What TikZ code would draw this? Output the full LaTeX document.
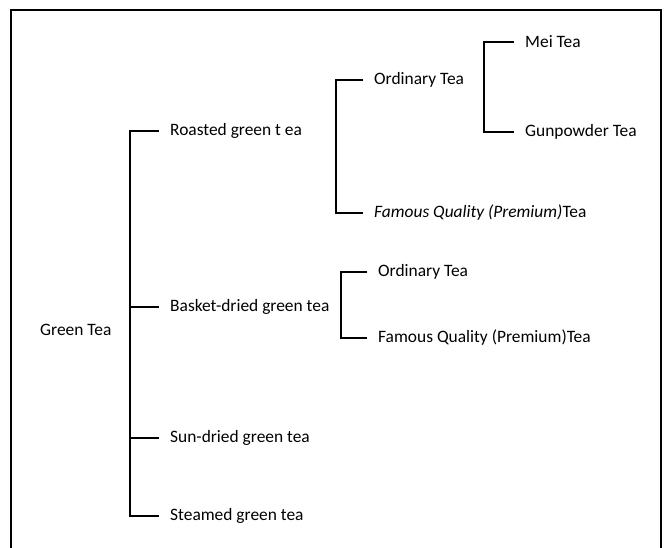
\documentclass[tikz,border=0pt]{standalone}
\usepackage{fontspec}
\setmainfont{Carlito}
\usepackage{tikz}
\usetikzlibrary{calc}
\newcommand{\teafont}{\fontsize{17.4}{19}\selectfont}
\tikzset{
    frame/.style={line width=1.6pt},
    branch/.style={line width=1.3pt},
    tea/.style={anchor=west, inner xsep=11pt, inner ysep=0pt, font=\teafont},
    root/.style={tea, inner xsep=0pt}
}
\begin{document}
\begin{tikzpicture}[x=1pt, y=-1pt]
    \useasboundingbox (0,0) rectangle (666,548);
    \draw[frame] (11,548) -- (11,10) -- (661,10) -- (661,548);

    \node[root] (green) at (40,330) {Green Tea};
    \node[tea] (roast) at (159,131) {Roasted green t ea};
    \node[tea] (basket) at (159,307) {Basket-dried green tea};
    \node[tea] (sun) at (159,438) {Sun-dried green tea};
    \node[tea] (steam) at (159,516) {Steamed green tea};

    \node[tea] (ord1) at (363,80) {Ordinary Tea};
    \node[tea] (fam1) at (363,213) {\textit{Famous Quality (Premium)}Tea};
    \node[tea] (mei) at (514,42) {Mei Tea};
    \node[tea] (gun) at (514,132) {Gunpowder Tea};

    \node[tea] (ord2) at (367,272) {Ordinary Tea};
    \node[tea] (fam2) at (367,338) {Famous Quality (Premium)Tea};

    \coordinate (green-bus) at (130,0);
    \coordinate (roast-bus) at (336,0);
    \coordinate (ord1-bus) at (484,0);
    \coordinate (basket-bus) at (341,0);

    \draw[branch] (roast.west) -- (roast.west -| green-bus) -- (steam.west -| green-bus) -- (steam.west);
    \draw[branch] (basket.west) -- (basket.west -| green-bus);
    \draw[branch] (sun.west) -- (sun.west -| green-bus);

    \draw[branch] (ord1.west) -- (ord1.west -| roast-bus) -- (fam1.west -| roast-bus) -- (fam1.west);
    \draw[branch] (mei.west) -- (mei.west -| ord1-bus) -- (gun.west -| ord1-bus) -- (gun.west);
    \draw[branch] (ord2.west) -- (ord2.west -| basket-bus) -- (fam2.west -| basket-bus) -- (fam2.west);
\end{tikzpicture}
\end{document}
